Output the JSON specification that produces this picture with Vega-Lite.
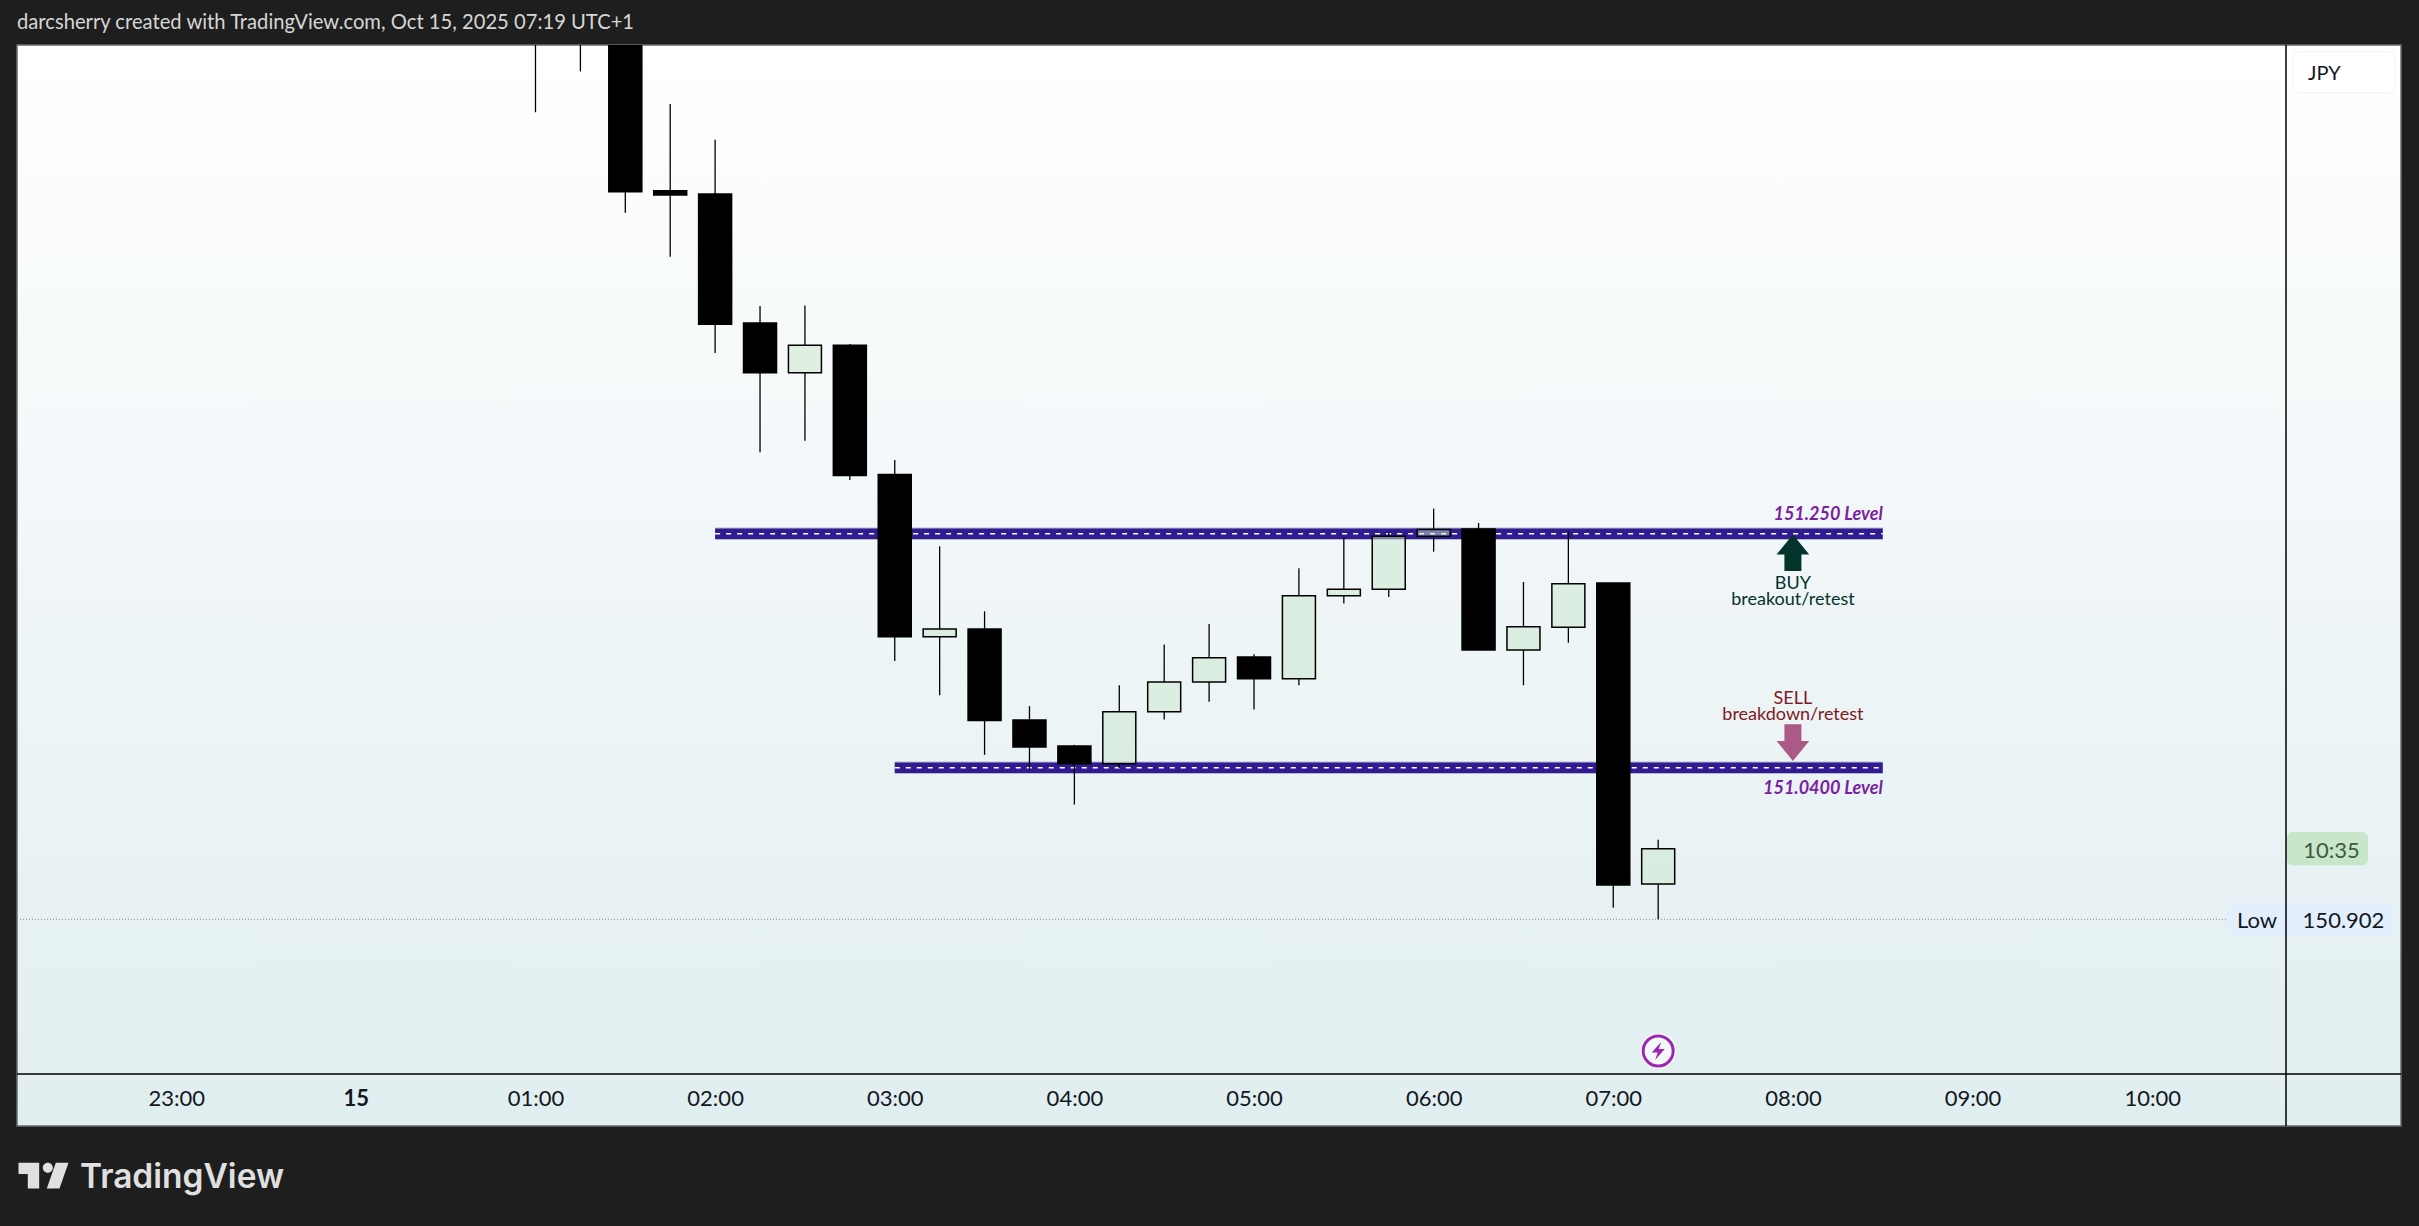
{
  "$schema": "https://vega.github.io/schema/vega-lite/v6.json",
  "width": 2269,
  "height": 1029,
  "autosize": {"type": "none"},
  "padding": {"left": 17, "top": 45, "right": 133, "bottom": 152},
  "background": "#1e1e1e",
  "title": {
    "text": "darcsherry created with TradingView.com, Oct 15, 2025 07:19 UTC+1",
    "anchor": "start",
    "frame": "group",
    "font": "Lato",
    "fontSize": 20.2,
    "fontWeight": "normal",
    "color": "#d6d6d6",
    "offset": 11
  },
  "datasets": {
    "panel": [
      {"t": "2025-10-14T22:06:49Z", "t2": "2025-10-15T11:23:07Z", "price": 151.6939, "price2": 150.7148}
    ],
    "lowLine": [
      {"t": "2025-10-14T22:06:49Z", "t2": "2025-10-15T10:25:00Z", "price": 150.902}
    ],
    "levels": [
      {"t": "2025-10-15T02:00:00Z", "t2": "2025-10-15T08:30:00Z", "price": 151.2512},
      {"t": "2025-10-15T03:00:00Z", "t2": "2025-10-15T08:30:00Z", "price": 151.0393}
    ],
    "candles": [
      {"t": "2025-10-15T01:00:00Z", "high": 151.8, "top": 151.78, "bottom": 151.74, "low": 151.633, "dir": "down"},
      {"t": "2025-10-15T01:15:00Z", "high": 151.8, "top": 151.78, "bottom": 151.74, "low": 151.67, "dir": "down"},
      {"t": "2025-10-15T01:30:00Z", "high": 151.8, "top": 151.75, "bottom": 151.561, "low": 151.542, "dir": "down"},
      {"t": "2025-10-15T01:45:00Z", "high": 151.6405, "top": 151.562, "bottom": 151.558, "low": 151.502, "dir": "down"},
      {"t": "2025-10-15T02:00:00Z", "high": 151.608, "top": 151.559, "bottom": 151.441, "low": 151.415, "dir": "down"},
      {"t": "2025-10-15T02:15:00Z", "high": 151.4575, "top": 151.442, "bottom": 151.397, "low": 151.325, "dir": "down"},
      {"t": "2025-10-15T02:30:00Z", "high": 151.458, "top": 151.422, "bottom": 151.397, "low": 151.3355, "dir": "up"},
      {"t": "2025-10-15T02:45:00Z", "high": 151.423, "top": 151.422, "bottom": 151.304, "low": 151.3, "dir": "down"},
      {"t": "2025-10-15T03:00:00Z", "high": 151.318, "top": 151.305, "bottom": 151.158, "low": 151.136, "dir": "down"},
      {"t": "2025-10-15T03:15:00Z", "high": 151.24, "top": 151.165, "bottom": 151.158, "low": 151.105, "dir": "up"},
      {"t": "2025-10-15T03:30:00Z", "high": 151.181, "top": 151.165, "bottom": 151.082, "low": 151.051, "dir": "down"},
      {"t": "2025-10-15T03:45:00Z", "high": 151.095, "top": 151.0825, "bottom": 151.058, "low": 151.037, "dir": "down"},
      {"t": "2025-10-15T04:00:00Z", "high": 151.06, "top": 151.059, "bottom": 151.043, "low": 151.006, "dir": "down"},
      {"t": "2025-10-15T04:15:00Z", "high": 151.114, "top": 151.09, "bottom": 151.043, "low": 151.039, "dir": "up"},
      {"t": "2025-10-15T04:30:00Z", "high": 151.151, "top": 151.117, "bottom": 151.09, "low": 151.083, "dir": "up"},
      {"t": "2025-10-15T04:45:00Z", "high": 151.1695, "top": 151.139, "bottom": 151.117, "low": 151.099, "dir": "up"},
      {"t": "2025-10-15T05:00:00Z", "high": 151.142, "top": 151.1395, "bottom": 151.12, "low": 151.092, "dir": "down"},
      {"t": "2025-10-15T05:15:00Z", "high": 151.22, "top": 151.195, "bottom": 151.12, "low": 151.114, "dir": "up"},
      {"t": "2025-10-15T05:30:00Z", "high": 151.248, "top": 151.201, "bottom": 151.195, "low": 151.188, "dir": "up"},
      {"t": "2025-10-15T05:45:00Z", "high": 151.2525, "top": 151.249, "bottom": 151.201, "low": 151.194, "dir": "up"},
      {"t": "2025-10-15T06:00:00Z", "high": 151.274, "top": 151.255, "bottom": 151.249, "low": 151.235, "dir": "up"},
      {"t": "2025-10-15T06:15:00Z", "high": 151.261, "top": 151.2555, "bottom": 151.146, "low": 151.146, "dir": "down"},
      {"t": "2025-10-15T06:30:00Z", "high": 151.2075, "top": 151.167, "bottom": 151.146, "low": 151.114, "dir": "up"},
      {"t": "2025-10-15T06:45:00Z", "high": 151.253, "top": 151.206, "bottom": 151.1665, "low": 151.1525, "dir": "up"},
      {"t": "2025-10-15T07:00:00Z", "high": 151.2066, "top": 151.2066, "bottom": 150.933, "low": 150.9125, "dir": "down"},
      {"t": "2025-10-15T07:15:00Z", "high": 150.974, "top": 150.966, "bottom": 150.934, "low": 150.902, "dir": "up"}
    ],
    "boxes": [
      {"t": "2025-10-15T10:46:56Z", "t2": "2025-10-15T11:21:06Z", "price": 151.6879, "price2": 151.6507, "kind": "jpy"},
      {"t": "2025-10-15T10:44:52Z", "t2": "2025-10-15T11:12:05Z", "price": 150.981, "price2": 150.951, "kind": "countdown"},
      {"t": "2025-10-15T10:25:00Z", "t2": "2025-10-15T11:20:47Z", "price": 150.9165, "price2": 150.887, "kind": "low"}
    ],
    "frameH": [
      {"t": "2025-10-14T22:06:49Z", "t2": "2025-10-15T11:23:07Z", "price": 150.7619}
    ],
    "frameV": [
      {"t": "2025-10-15T10:44:42Z", "price": 151.6939, "price2": 150.7148}
    ],
    "arrows": [
      {"t": "2025-10-15T08:00:00Z", "price": 151.234, "side": "buy"},
      {"t": "2025-10-15T08:00:00Z", "price": 151.062, "side": "sell"}
    ],
    "signal": [
      {"t": "2025-10-15T07:15:00Z", "price": 150.7827}
    ],
    "logo": [
      {"t": "2025-10-14T22:15:40Z", "price": 150.6699}
    ],
    "levelLabels": [
      {"t": "2025-10-15T08:30:00Z", "price": 151.27, "label": "151.250 Level"},
      {"t": "2025-10-15T08:30:00Z", "price": 151.022, "label": "151.0400 Level"}
    ],
    "sideLabels": [
      {"t": "2025-10-15T08:00:00Z", "price": 151.206, "label": "BUY", "side": "buy"},
      {"t": "2025-10-15T08:00:00Z", "price": 151.1915, "label": "breakout/retest", "side": "buy"},
      {"t": "2025-10-15T08:00:00Z", "price": 151.102, "label": "SELL", "side": "sell"},
      {"t": "2025-10-15T08:00:00Z", "price": 151.0875, "label": "breakdown/retest", "side": "sell"}
    ],
    "paneLabels": [
      {"t": "2025-10-15T10:59:54Z", "price": 150.966, "label": "10:35", "kind": "countdown"},
      {"t": "2025-10-15T10:35:01Z", "price": 150.902, "label": "Low", "kind": "low"},
      {"t": "2025-10-15T11:03:54Z", "price": 150.902, "label": "150.902", "kind": "low"},
      {"t": "2025-10-15T10:57:30Z", "price": 151.6695, "label": "JPY", "kind": "jpy"}
    ],
    "brand": [
      {"t": "2025-10-14T22:27:50Z", "price": 150.6688, "label": "TradingView"}
    ]
  },
  "encoding": {
    "x": {
      "field": "t",
      "type": "temporal",
      "title": null,
      "scale": {"type": "utc", "domain": ["2025-10-14T22:06:49Z", "2025-10-15T10:44:42Z"], "padding": 0},
      "axis": {
        "values": [
          "2025-10-14T23:00:00Z", "2025-10-15T00:00:00Z", "2025-10-15T01:00:00Z", "2025-10-15T02:00:00Z",
          "2025-10-15T03:00:00Z", "2025-10-15T04:00:00Z", "2025-10-15T05:00:00Z", "2025-10-15T06:00:00Z",
          "2025-10-15T07:00:00Z", "2025-10-15T08:00:00Z", "2025-10-15T09:00:00Z", "2025-10-15T10:00:00Z"
        ],
        "labelExpr": "utchours(datum.value) == 0 ? '15' : utcFormat(datum.value, '%H:%M')",
        "labelFontWeight": {"condition": {"test": "utchours(datum.value) == 0", "value": "bold"}, "value": "normal"},
        "labelFont": "Lato",
        "labelFontSize": 22,
        "labelColor": "#131722",
        "labelPadding": 14,
        "labelAngle": 0,
        "labelOverlap": false,
        "labelFlush": false,
        "grid": false,
        "ticks": false,
        "domain": false,
        "zindex": 1
      }
    },
    "y": {
      "field": "price",
      "type": "quantitative",
      "title": null,
      "scale": {"domain": [150.7619, 151.6939]},
      "axis": {
        "orient": "right",
        "values": [150.8, 150.9, 151, 151.1, 151.2, 151.3, 151.4, 151.5, 151.6],
        "format": ".3f",
        "labelFont": "Lato",
        "labelFontSize": 22,
        "labelColor": "#131722",
        "labelPadding": 16,
        "labelAlign": "left",
        "labelOverlap": false,
        "labelFlush": false,
        "grid": false,
        "ticks": false,
        "domain": false,
        "zindex": 1
      }
    }
  },
  "layer": [
    {
      "data": {"name": "panel", "format": {"parse": {"t2": "date"}}},
      "mark": {
        "type": "rect",
        "stroke": "#6b6b6b",
        "strokeWidth": 1.5,
        "fill": {
          "gradient": "linear",
          "x1": 0, "y1": 0, "x2": 0, "y2": 1,
          "stops": [
            {"offset": 0, "color": "#ffffff"},
            {"offset": 0.5, "color": "#f0f6f8"},
            {"offset": 1, "color": "#e1eef0"}
          ]
        }
      },
      "encoding": {"x2": {"field": "t2"}, "y2": {"field": "price2"}}
    },
    {
      "data": {"name": "lowLine", "format": {"parse": {"t2": "date"}}},
      "mark": {"type": "rule", "color": "#8a8e96", "strokeWidth": 1, "strokeDash": [1, 2]},
      "encoding": {"x2": {"field": "t2"}}
    },
    {
      "data": {"name": "levels", "format": {"parse": {"t2": "date"}}},
      "mark": {"type": "rule", "color": "#b8b8c8", "strokeWidth": 12.5},
      "encoding": {"x2": {"field": "t2"}}
    },
    {
      "data": {"name": "levels", "format": {"parse": {"t2": "date"}}},
      "mark": {"type": "rule", "color": "#311b92", "strokeWidth": 10.5},
      "encoding": {"x2": {"field": "t2"}}
    },
    {
      "data": {"name": "levels", "format": {"parse": {"t2": "date"}}},
      "mark": {"type": "rule", "color": "#ffffff", "strokeWidth": 1.5, "strokeDash": [5, 6]},
      "encoding": {"x2": {"field": "t2"}}
    },
    {
      "data": {"name": "candles"},
      "mark": {"type": "rule", "color": "#000000", "strokeWidth": 1.3, "clip": true},
      "encoding": {
        "y": {"field": "high", "type": "quantitative", "scale": {"domain": [150.7619, 151.6939]}, "axis": null},
        "y2": {"field": "top"}
      }
    },
    {
      "data": {"name": "candles"},
      "mark": {"type": "rule", "color": "#000000", "strokeWidth": 1.3, "clip": true},
      "encoding": {
        "y": {"field": "bottom", "type": "quantitative", "scale": {"domain": [150.7619, 151.6939]}, "axis": null},
        "y2": {"field": "low"}
      }
    },
    {
      "data": {"name": "candles"},
      "mark": {"type": "bar", "size": 33, "stroke": "#000000", "strokeWidth": 1.5, "clip": true, "orient": "vertical"},
      "encoding": {
        "y": {"field": "top", "type": "quantitative", "scale": {"domain": [150.7619, 151.6939]}, "axis": null},
        "y2": {"field": "bottom"},
        "fill": {"field": "dir", "type": "nominal", "scale": {"domain": ["up", "down"], "range": ["#c8e6c9", "#000000"]}, "legend": null},
        "fillOpacity": {"condition": {"test": "datum.dir == 'up'", "value": 0.5}, "value": 1}
      }
    },
    {
      "data": {"name": "boxes", "format": {"parse": {"t2": "date"}}},
      "mark": {"type": "rect", "cornerRadius": 6},
      "encoding": {
        "x2": {"field": "t2"},
        "y2": {"field": "price2"},
        "fill": {"field": "kind", "type": "nominal", "scale": {"domain": ["jpy", "countdown", "low"], "range": ["#ffffff", "#c8e6c9", "#e3effd"]}, "legend": null},
        "stroke": {"condition": {"test": "datum.kind == 'jpy'", "value": "#f0f3fa"}, "value": null}
      }
    },
    {
      "data": {"name": "frameH", "format": {"parse": {"t2": "date"}}},
      "mark": {"type": "rule", "color": "#000000", "strokeWidth": 1.5},
      "encoding": {"x2": {"field": "t2"}}
    },
    {
      "data": {"name": "frameV"},
      "mark": {"type": "rule", "color": "#000000", "strokeWidth": 1.5},
      "encoding": {"y2": {"field": "price2"}}
    },
    {
      "data": {"name": "arrows"},
      "mark": {"type": "point", "filled": true, "size": 1347, "opacity": 1},
      "encoding": {
        "shape": {
          "field": "side",
          "type": "nominal",
          "scale": {
            "domain": ["buy", "sell"],
            "range": [
              "M0,-1L0.89,0.09L0.463,0.09L0.463,1L-0.463,1L-0.463,0.09L-0.89,0.09Z",
              "M0,1L0.89,-0.09L0.463,-0.09L0.463,-1L-0.463,-1L-0.463,-0.09L-0.89,-0.09Z"
            ]
          },
          "legend": null
        },
        "color": {"field": "side", "type": "nominal", "scale": {"domain": ["buy", "sell"], "range": ["#04332c", "#ab5a85"]}, "legend": null}
      }
    },
    {
      "data": {"name": "signal"},
      "mark": {"type": "point", "shape": "circle", "size": 1250, "filled": true, "color": "#ffffff", "opacity": 1}
    },
    {
      "data": {"name": "signal"},
      "mark": {"type": "point", "shape": "circle", "size": 900, "fill": "#f3f8f9", "stroke": "#9c27b0", "strokeWidth": 3, "opacity": 1, "filled": false}
    },
    {
      "data": {"name": "signal"},
      "mark": {"type": "point", "shape": "M0.3,-0.9L-0.65,0.15L-0.05,0.15L-0.3,0.9L0.65,-0.2L0.05,-0.2Z", "size": 400, "filled": true, "color": "#9c27b0", "opacity": 1}
    },
    {
      "data": {"name": "logo"},
      "mark": {
        "type": "point",
        "shape": "M-1,-0.512L-0.172,-0.512L-0.172,0.512L-0.628,0.512L-0.628,-0.06L-1,-0.06ZM-0.028,-0.312a0.2,0.2 0 1,0 0.4,0a0.2,0.2 0 1,0 -0.4,0ZM0.492,-0.512L1,-0.512L0.64,0.512L0.132,0.512Z",
        "size": 2500,
        "filled": true,
        "color": "#e0e0e0",
        "opacity": 1
      }
    },
    {
      "data": {"name": "levelLabels"},
      "mark": {"type": "text", "align": "right", "baseline": "middle", "dy": 2, "font": "Lato", "fontSize": 18, "fontStyle": "italic", "fontWeight": "bold", "color": "#7b1fa2"},
      "encoding": {"text": {"field": "label"}}
    },
    {
      "data": {"name": "sideLabels"},
      "mark": {"type": "text", "align": "center", "baseline": "middle", "font": "Lato", "fontSize": 18},
      "encoding": {
        "text": {"field": "label"},
        "color": {"field": "side", "type": "nominal", "scale": {"domain": ["buy", "sell"], "range": ["#04332c", "#801922"]}, "legend": null}
      }
    },
    {
      "data": {"name": "paneLabels"},
      "mark": {"type": "text", "align": "center", "baseline": "middle", "dy": 2, "font": "Lato"},
      "encoding": {
        "text": {"field": "label"},
        "size": {"condition": {"test": "datum.kind == 'jpy'", "value": 20}, "value": 22},
        "color": {"condition": {"test": "datum.kind == 'countdown'", "value": "#3d5a40"}, "value": "#131722"}
      }
    },
    {
      "data": {"name": "brand"},
      "mark": {"type": "text", "align": "left", "baseline": "middle", "dy": 1, "font": "Inter", "fontSize": 33.5, "fontWeight": 600, "color": "#e0e0e0"},
      "encoding": {"text": {"field": "label"}}
    }
  ],
  "resolve": {"scale": {"color": "independent", "fill": "independent", "shape": "independent"}},
  "config": {"view": {"stroke": null}}
}
